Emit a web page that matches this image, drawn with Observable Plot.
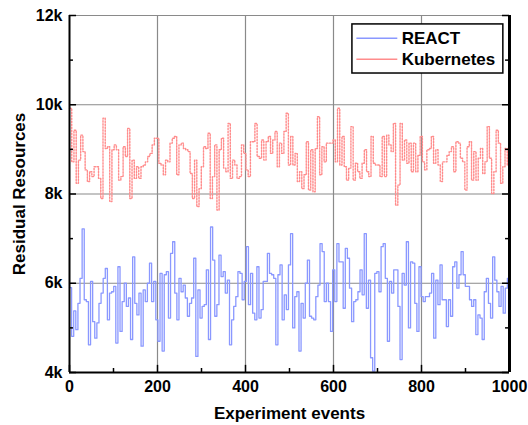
<!DOCTYPE html>
<html><head><meta charset="utf-8">
<script src="https://cdn.jsdelivr.net/npm/d3@7"></script>
<script src="https://cdn.jsdelivr.net/npm/@observablehq/plot@0.6"></script>
<style>body{margin:0;background:#fff;} #chart svg{display:block;}</style>
</head><body><div id="chart"></div>
<script>
// Residual resources (thousands) per experiment event sample
const react = [
5.9,4.81,5.38,4.96,5.55,6.11,7.22,5.63,5.59,4.62,6.04,5.14,4.77,5.11,5.55,5.78,6.11,6.33,5.18,5.78,5.81,5.93,4.66,6.37,4.92,5.59,6.00,5.48,5.67,4.74,6.59,5.55,5.29,5.78,4.59,5.85,5.59,6.00,6.45,5.59,6.04,5.18,4.70,6.22,4.48,6.19,6.26,5.22,6.67,6.93,5.78,5.18,6.11,5.81,5.96,5.67,5.26,5.55,5.67,6.56,4.36,5.85,5.22,5.48,5.52,6.30,4.74,7.26,
6.52,5.26,5.52,6.63,6.15,6.26,5.78,6.07,4.62,5.18,5.48,5.70,6.26,6.22,5.63,6.04,6.82,5.52,6.22,5.33,5.18,6.37,5.22,5.41,6.04,6.04,6.67,6.22,6.19,6.11,4.62,6.19,6.41,5.18,5.74,5.41,6.41,7.11,5.00,5.70,5.81,4.48,5.55,5.22,6.00,6.52,5.26,5.22,5.18,5.70,5.96,6.89,6.71,5.59,6.00,5.59,4.92,6.30,5.59,6.89,6.48,6.48,5.44,6.78,6.56,5.89,5.14,5.59,5.63,5.81,6.30,
5.74,7.11,5.44,6.07,4.33,4.03,6.22,6.26,5.81,6.82,6.89,6.11,4.70,6.04,5.78,6.30,6.30,5.48,4.29,6.22,5.96,6.93,5.00,6.48,6.45,5.55,4.92,6.37,5.70,5.59,5.70,5.70,5.78,6.22,4.77,6.07,5.52,6.41,5.63,5.63,5.03,5.63,5.26,6.37,6.48,5.89,6.19,6.71,6.19,5.93,5.93,5.63,5.48,5.63,4.85,5.29,5.22,4.74,5.81,6.11,5.55,5.22,6.59,6.07,5.81,5.48,5.93,5.33,5.89,6.11,5.26
];
const kubernetes = [
9.92,8.72,9.43,8.24,8.76,9.32,8.95,8.54,8.28,8.50,8.39,8.61,8.61,8.35,7.90,9.70,9.02,9.06,7.83,8.99,9.10,8.99,8.31,8.39,9.06,8.84,9.47,7.90,8.76,8.35,8.61,8.35,8.61,8.65,8.72,8.84,8.91,9.10,9.25,9.25,8.69,8.65,8.43,8.76,8.72,9.14,9.25,9.29,8.43,9.10,9.14,9.02,8.99,8.95,8.46,7.90,8.76,7.72,8.12,8.61,9.06,9.02,9.36,7.90,8.39,9.10,7.64,8.99,
9.25,8.58,8.50,9.58,8.35,8.76,8.65,8.35,8.39,9.10,8.91,8.54,8.39,9.17,9.17,9.58,8.84,8.80,9.21,8.76,9.17,9.29,8.91,9.21,9.40,8.61,9.14,8.91,9.40,9.81,8.65,9.29,8.65,8.91,8.28,8.50,8.12,8.43,9.17,8.09,8.99,8.05,9.02,9.73,8.43,9.06,8.72,9.14,9.14,9.14,9.21,8.72,9.92,8.65,9.29,8.61,8.31,8.58,9.51,8.31,8.69,8.50,8.35,8.69,8.99,8.50,8.39,
9.29,8.69,8.65,8.65,8.39,9.29,8.39,9.32,9.10,8.95,9.58,7.75,8.20,9.58,8.76,9.21,8.69,9.14,8.50,9.14,8.50,8.87,9.29,8.72,8.54,8.99,9.02,9.29,8.69,8.99,8.65,8.28,8.72,8.72,8.87,8.95,9.06,8.50,9.17,9.14,8.80,8.72,8.09,9.06,9.17,8.31,8.95,8.31,8.80,9.02,8.46,8.72,9.51,8.80,8.01,8.50,9.43,9.14,8.24,8.61,9.02,8.65,9.25
];
const seriesNames = ["REACT", "Kubernetes"];
const xTickLabels = [0, 200, 400, 600, 800, 1000];
const xMinor = [100, 300, 500, 700, 900];
const yTickLabels = [4, 6, 8, 10, 12];
const yMinor = [5, 7, 9, 11];
const xGrid = [200, 400, 600, 800];
const yGrid = [6, 8, 10, 12];

const toRows = arr => arr.map((y, i) => ({x: i * 1000 / (arr.length - 1), y}));
const reactRows = toRows(react);
const kubeRows = toRows(kubernetes);

const blue = "#8a98ff", red = "#ff8c8c";
const font = "Liberation Sans, Arial, sans-serif";

// legend placed in data space (x events, y thousands)
const legendBox = [{x1: 643, x2: 986, y1: 11.80, y2: 10.70}];
const legendRows = [
  {name: seriesNames[0], y: 11.49, c: blue},
  {name: seriesNames[1], y: 11.02, c: red}
];

const chart = Plot.plot({
  width: 528, height: 425,
  marginLeft: 69, marginRight: 19, marginTop: 15, marginBottom: 53,
  style: {fontFamily: font, background: "#fff", overflow: "visible"},
  x: {domain: [0, 1000]},
  y: {domain: [4, 12]},
  marks: [
    Plot.ruleX(xGrid, {stroke: "#8a8a8a", strokeWidth: 1.2}),
    Plot.ruleY(yGrid, {stroke: "#8a8a8a", strokeWidth: 1.2}),
    Plot.line(reactRows, {x: "x", y: "y", curve: "step-after", stroke: blue, strokeWidth: 1.3}),
    Plot.line(kubeRows, {x: "x", y: "y", curve: "step-after", stroke: red, strokeWidth: 1.4, strokeDasharray: "1.5 1.5"}),
    // frame
    Plot.ruleX([0], {stroke: "#000", strokeWidth: 2}),
    Plot.ruleY([4], {stroke: "#000", strokeWidth: 2}),
    Plot.ruleX([1000], {stroke: "#000", strokeWidth: 3}),
    // ticks (inward)
    Plot.ruleY(yTickLabels, {x1: 0, x2: 16, stroke: "#000", strokeWidth: 1.5}),
    Plot.ruleY(yMinor, {x1: 0, x2: 9, stroke: "#000", strokeWidth: 1.5}),
    Plot.ruleY(yTickLabels, {x1: 984, x2: 1000, stroke: "#000", strokeWidth: 1.5}),
    Plot.ruleY(yMinor, {x1: 991, x2: 1000, stroke: "#000", strokeWidth: 1.5}),
    Plot.ruleX(xTickLabels, {y1: 4, y2: 4.16, stroke: "#000", strokeWidth: 1.5}),
    Plot.ruleX(xMinor, {y1: 4, y2: 4.09, stroke: "#000", strokeWidth: 1.5}),
    Plot.axisY({ticks: yTickLabels, tickSize: 0, tickPadding: 7, tickFormat: d => d + "k", fontSize: 16, fontWeight: "bold", fill: "#000",
      label: "Residual Resources", labelAnchor: "center", labelArrow: "none", labelOffset: 57}),
    Plot.axisX({ticks: xTickLabels, tickSize: 0, tickPadding: 8, tickFormat: d => String(d), fontSize: 16, fontWeight: "bold", fill: "#000",
      label: "Experiment events", labelAnchor: "center", labelArrow: "none", labelOffset: 46}),
    // legend
    Plot.rect(legendBox, {x1: "x1", x2: "x2", y1: "y1", y2: "y2", fill: "#fff", stroke: "#000", strokeWidth: 1.5}),
    Plot.link(legendRows, {x1: 652, x2: 745, y1: "y", y2: "y", stroke: "c", strokeWidth: 1.4,
      strokeDasharray: d => d.name === "Kubernetes" ? "1.5 1.5" : null}),
    Plot.text(legendRows, {x: 755, y: "y", text: "name", textAnchor: "start", fontSize: 17, fontWeight: "bold", fill: "#000"})
  ]
});

const svg = d3.select(chart);
svg.selectAll("[aria-label='y-axis label'] text, [aria-label='x-axis label'] text")
  .attr("font-size", 17).attr("font-weight", "bold").attr("fill", "#000");

document.getElementById("chart").appendChild(chart);
</script>
</body></html>
